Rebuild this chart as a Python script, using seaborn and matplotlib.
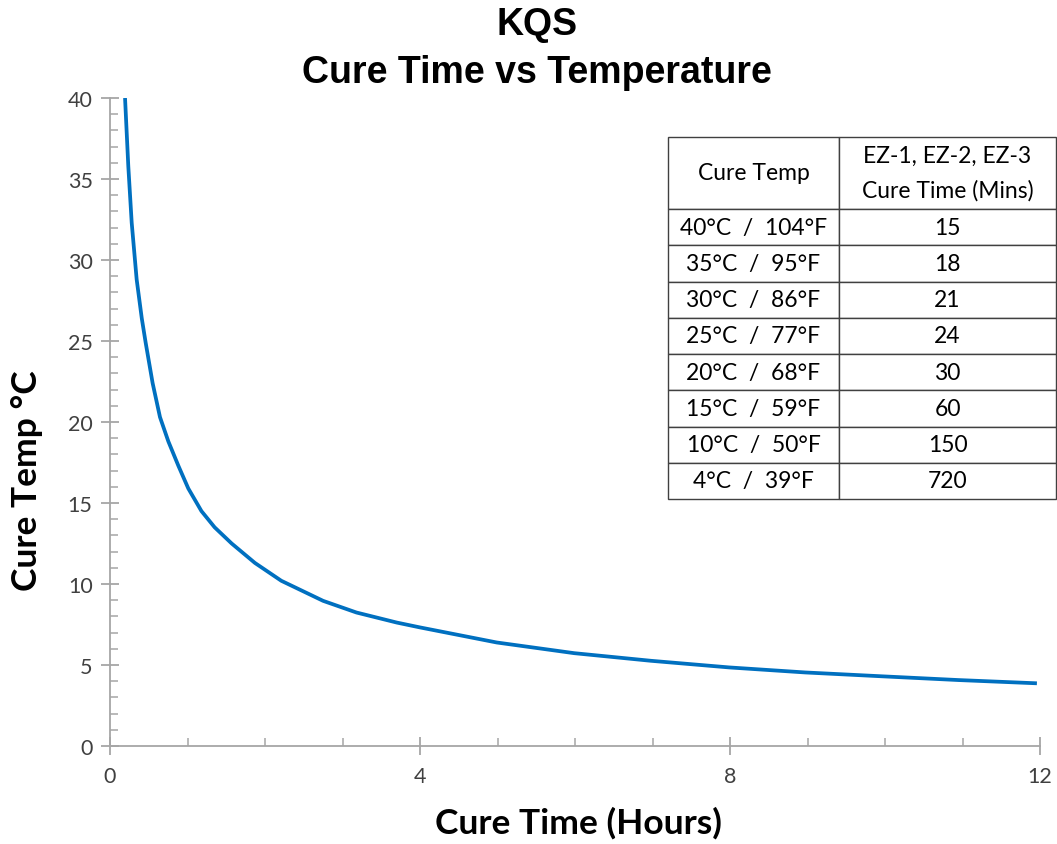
import matplotlib
matplotlib.use("Agg")
import matplotlib.pyplot as plt
import seaborn as sns
import pandas as pd
from matplotlib.ticker import MultipleLocator

# ---- data ----
cure_hours = [0.194, 0.236, 0.280, 0.344, 0.41, 0.46, 0.55, 0.645, 0.753, 0.882,
              1.01, 1.18, 1.35, 1.57, 1.87, 2.21, 2.75, 3.18, 3.70, 4.0,
              4.99, 5.99, 6.98, 7.99, 8.97, 9.97, 10.95, 11.96]
cure_temp_c = [40.0, 35.8, 32.3, 28.8, 26.4, 24.9, 22.4, 20.3, 18.8, 17.3,
               15.9, 14.5, 13.5, 12.5, 11.3, 10.2, 8.96, 8.24, 7.62, 7.32,
               6.39, 5.73, 5.26, 4.85, 4.54, 4.30, 4.07, 3.87]

table_temps = ["40°C  /  104°F", "35°C  /  95°F", "30°C  /  86°F", "25°C  /  77°F",
               "20°C  /  68°F", "15°C  /  59°F", "10°C  /  50°F", "4°C  /  39°F"]
table_mins = ["15", "18", "21", "24", "30", "60", "150", "720"]
table_header = ["Cure Temp", "EZ-1, EZ-2, EZ-3\nCure Time (Mins)"]

x_ticks = [0, 4, 8, 12]
y_ticks = [0, 5, 10, 15, 20, 25, 30, 35, 40]

title_lines = ["KQS", "Cure Time vs Temperature"]
x_label = "Cure Time (Hours)"
y_label = "Cure Temp °C"

# ---- style ----
sns.set_style("white")
plt.rcParams["font.family"] = ["Lato", "DejaVu Sans"]

W, H = 1057, 845
fig = plt.figure(figsize=(W / 100, H / 100), dpi=100)
ax = fig.add_axes([110 / W, 1 - 747 / H, (1040 - 110) / W, (747 - 99) / H])

df = pd.DataFrame({"hours": cure_hours, "temp": cure_temp_c})
sns.lineplot(data=df, x="hours", y="temp", ax=ax, color="#0070C0",
             linewidth=2.7, solid_joinstyle="round", solid_capstyle="butt")

ax.set_xlim(0, 12)
ax.set_ylim(0, 40)
ax.set_xticks(x_ticks)
ax.set_yticks(y_ticks)
ax.xaxis.set_minor_locator(MultipleLocator(1))
ax.yaxis.set_minor_locator(MultipleLocator(1))

spine_col = "#A6A6A6"
for side in ["top", "right"]:
    ax.spines[side].set_visible(False)
for side in ["left", "bottom"]:
    ax.spines[side].set_color(spine_col)
    ax.spines[side].set_linewidth(1.3)

ax.tick_params(which="both", bottom=True, left=True, top=False, right=False)
ax.tick_params(which="major", direction="inout", length=13, width=1.3,
               color=spine_col, labelsize=15.5, labelcolor="#404040")
ax.tick_params(which="minor", direction="in", length=6, width=1.1,
               color=spine_col)
ax.tick_params(axis="y", which="major", pad=6)
ax.tick_params(axis="x", which="major", pad=8)

ax.set_xlabel("")
ax.set_ylabel("")
fig.text(578 / W, 1 - 823 / H, x_label, fontsize=25.5, fontweight="bold",
         color="black", ha="center", va="center")
fig.text(27 / W, 1 - 481 / H, y_label, rotation=90, fontsize=25.5,
         fontweight="bold", color="black", ha="center", va="center")

title_font = ["Liberation Sans", "DejaVu Sans"]
fig.text(537 / W, 1 - 25 / H, title_lines[0], ha="center", va="center",
         fontsize=27, fontweight="bold", family=title_font, color="black")
fig.text(537 / W, 1 - 73 / H, title_lines[1], ha="center", va="center",
         fontsize=27, fontweight="bold", family=title_font, color="black")

# ---- table overlay ----
tab_l, tab_r, tab_t, tab_b = 668, 1056, 138, 500
tax = fig.add_axes([tab_l / W, 1 - tab_b / H, (tab_r - tab_l) / W, (tab_b - tab_t) / H])
tax.set_axis_off()
cell_text = [[a, b] for a, b in zip(table_temps, table_mins)]
tbl = tax.table(cellText=cell_text, colLabels=table_header, bbox=[0, 0, 1, 1],
                cellLoc="center", colWidths=[(839 - 668), (1056 - 839)])
tbl.auto_set_font_size(False)
n_rows = len(table_temps)
header_h = (210 - 138) / (tab_b - tab_t)
row_h = (1 - header_h) / n_rows
for (r, c), cell in tbl.get_celld().items():
    cell.set_edgecolor("#404040")
    cell.set_linewidth(1.0)
    cell.set_facecolor("white")
    cell.get_text().set_fontsize(16.5)
    cell.get_text().set_color("black")
    cell.get_text().set_linespacing(1.75)
    if r == 0:
        cell.set_height(header_h)
    else:
        cell.set_height(row_h)

fig.savefig("out.png", dpi=100)
